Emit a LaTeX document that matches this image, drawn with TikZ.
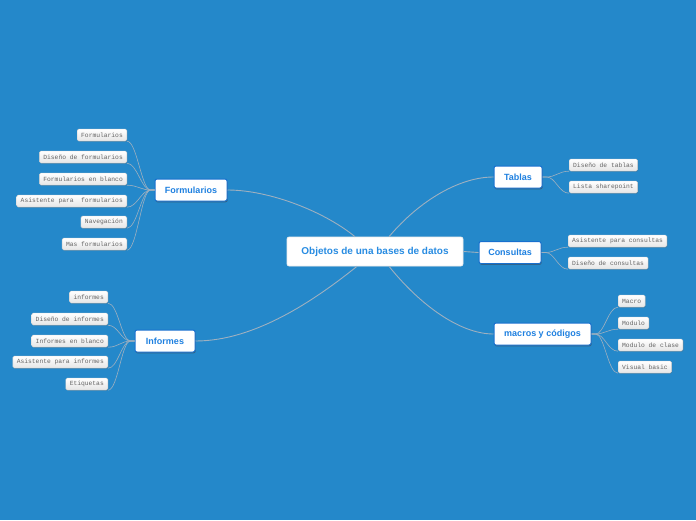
\documentclass[tikz,border=0pt]{standalone}
\usepackage{fontspec}
\setmainfont{Liberation Sans}
\newfontfamily\leaffont{Liberation Mono}
\usetikzlibrary{shadows}
\definecolor{bgblue}{RGB}{36,136,202}
\definecolor{topicblue}{RGB}{30,128,224}
\definecolor{centerblue}{RGB}{40,140,226}
\definecolor{topicborder}{RGB}{24,112,206}
\definecolor{linec}{RGB}{158,176,192}
\definecolor{leaftext}{RGB}{100,100,100}
\definecolor{leafborder}{RGB}{205,205,205}
\tikzset{
  centerbox/.style={draw=white!85!gray, line width=0.6pt, fill=white, rounded corners=2pt,
    minimum width=176pt, minimum height=29pt, text=centerblue, font=\fontsize{10}{12}\selectfont\bfseries, inner sep=0pt},
  topicbox/.style={draw=topicborder, line width=1pt, fill=white, rounded corners=2pt,
    minimum height=22pt, text=topicblue, font=\fontsize{9}{11}\selectfont\bfseries, inner sep=0pt,
    drop shadow={shadow xshift=0.6pt, shadow yshift=-1.3pt, opacity=0.5, fill=black!75}},
  leafbox/.style={draw=leafborder, line width=0.4pt, top color=white, bottom color=black!10,
    rounded corners=1.5pt, minimum height=12pt, inner xsep=4pt, inner ysep=0pt,
    text=leaftext, font=\leaffont\fontsize{6.3}{7}\selectfont,
    drop shadow={shadow xshift=0.6pt, shadow yshift=-0.8pt, opacity=0.3, fill=black!60}},
  conn/.style={draw=linec, line width=0.9pt},
  leafconn/.style={draw=linec, line width=0.6pt}
}
\begin{document}
\begin{tikzpicture}[x=1pt,y=-1pt]
\fill[bgblue] (0,0) rectangle (696,520);
\useasboundingbox (0,0) rectangle (696,520);

% center
\node[centerbox] (c) at (375,251.5) {Objetos de una bases de datos};

% topics
\node[topicbox, minimum width=72pt] (f) at (191,190) {Formularios};
\node[topicbox, minimum width=60pt] (i) at (165,341) {Informes};
\node[topicbox, minimum width=48pt] (t) at (518,177) {Tablas};
\node[topicbox, minimum width=62pt] (q) at (510,252.5) {Consultas};
\node[topicbox, minimum width=97pt] (m) at (542.5,334) {macros y códigos};

% connectors center -> topics
\draw[conn] ([xshift=-20pt]c.north) .. controls (325,212) and (270,190) .. (f.east);
\draw[conn] ([xshift=-18pt]c.south) .. controls (315,300) and (255,341) .. (i.east);
\draw[conn] ([xshift=14pt]c.north) .. controls (420,200) and (460,177) .. (t.west);
\draw[conn] (c.east) -- (q.west);
\draw[conn] ([xshift=14pt]c.south) .. controls (420,305) and (460,334) .. (m.west);

% Formularios leaves
\node[leafbox, anchor=east] (f1) at (127,135) {Formularios};
\node[leafbox, anchor=east] (f2) at (127,157) {Diseño de formularios};
\node[leafbox, anchor=east] (f3) at (127,179) {Formularios en blanco};
\node[leafbox, anchor=east] (f4) at (127,201) {Asistente para\ \ formularios};
\node[leafbox, anchor=east] (f5) at (127,222) {Navegación};
\node[leafbox, anchor=east] (f6) at (127,244) {Mas formularios};
\foreach \n in {f1,f2,f3,f4,f5,f6}
  \draw[leafconn] (f.west) -- ++(-4,0) .. controls +(-9,0) and +(10,0) .. (\n.south east);

% Informes leaves
\node[leafbox, anchor=east] (i1) at (108,297) {informes};
\node[leafbox, anchor=east] (i2) at (108,319) {Diseño de informes};
\node[leafbox, anchor=east] (i3) at (108,341) {Informes en blanco};
\node[leafbox, anchor=east] (i4) at (108,362) {Asistente para informes};
\node[leafbox, anchor=east] (i5) at (108,384) {Etiquetas};
\foreach \n in {i1,i2,i3,i4,i5}
  \draw[leafconn] (i.west) -- ++(-4,0) .. controls +(-9,0) and +(10,0) .. (\n.south east);

% Tablas leaves
\node[leafbox, anchor=west] (t1) at (569,165) {Diseño de tablas};
\node[leafbox, anchor=west] (t2) at (569,187) {Lista sharepoint};
\foreach \n in {t1,t2}
  \draw[leafconn] (t.east) -- ++(4,0) .. controls +(9,0) and +(-10,0) .. (\n.south west);

% Consultas leaves
\node[leafbox, anchor=west] (q1) at (568,241) {Asistente para consultas};
\node[leafbox, anchor=west] (q2) at (568,263) {Diseño de consultas};
\foreach \n in {q1,q2}
  \draw[leafconn] (q.east) -- ++(4,0) .. controls +(9,0) and +(-10,0) .. (\n.south west);

% macros leaves
\node[leafbox, anchor=west] (m1) at (618,301) {Macro};
\node[leafbox, anchor=west] (m2) at (618,323) {Modulo};
\node[leafbox, anchor=west] (m3) at (618,345) {Modulo de clase};
\node[leafbox, anchor=west] (m4) at (618,367) {Visual basic};
\foreach \n in {m1,m2,m3,m4}
  \draw[leafconn] (m.east) -- ++(4,0) .. controls +(9,0) and +(-10,0) .. (\n.south west);
\end{tikzpicture}
\end{document}
